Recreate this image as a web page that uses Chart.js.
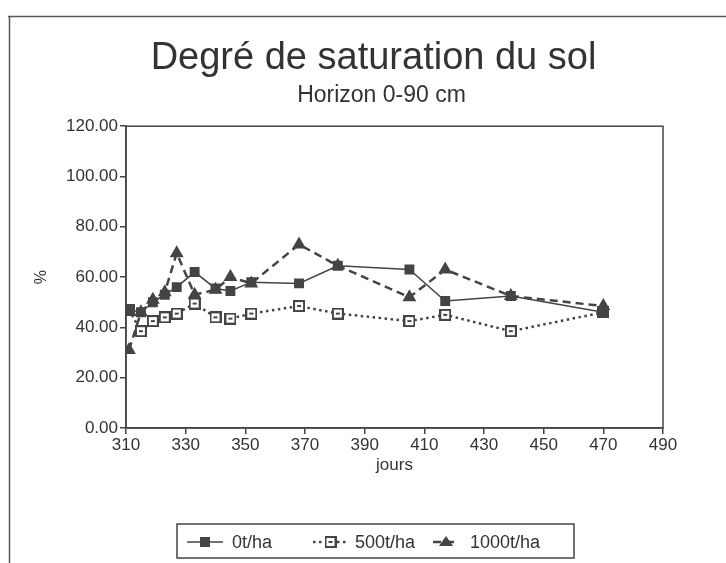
<!DOCTYPE html>
<html>
<head>
<meta charset="utf-8">
<script src="https://cdn.jsdelivr.net/npm/chart.js@4.4.1/dist/chart.umd.min.js"></script>
<style>
  html, body { margin: 0; padding: 0; background: #fff; }
  #wrap { width: 726px; height: 563px; }
</style>
</head>
<body>
<div id="wrap"><canvas id="chart" width="726" height="563"></canvas></div>
<script>
// ── Data ──────────────────────────────────────────
const days = [311, 315, 319, 323, 327, 333, 340, 345, 352, 368, 381, 405, 417, 439, 470];
const sat0 = [47, 46, 50, 53, 56, 62, 55.5, 54.5, 58, 57.5, 64.5, 63, 50.5, 52.5, 46];
const sat500 = [47, 38.5, 42.5, 44, 45.5, 49.5, 44, 43.5, 45.5, 48.5, 45.5, 42.5, 45, 38.5, 46];
const sat1000 = [31, 46, 51, 54, 69.5, 53, 55, 60, 57.5, 73, 64.5, 52, 63, 52.5, 48.5];
const seriesLabels = ['0t/ha', '500t/ha', '1000t/ha'];
const yTicks = [0, 20, 40, 60, 80, 100, 120];
const xTicks = [310, 330, 350, 370, 390, 410, 430, 450, 470, 490];

const TITLE = 'Degré de saturation du sol';
const SUBTITLE = 'Horizon 0-90 cm';
const INK = '#444';
const FONT = "'Liberation Sans', Arial, sans-serif";

// open square marker (500t/ha)
function openSquare() {
  const c = document.createElement('canvas');
  c.width = 12; c.height = 12;
  const g = c.getContext('2d');
  g.fillStyle = '#fff';
  g.fillRect(1, 1, 10, 10);
  g.strokeStyle = INK;
  g.lineWidth = 2;
  g.strokeRect(1, 1, 10, 10);
  g.fillStyle = INK;
  g.fillRect(4, 5, 4, 2);
  return c;
}
const sqImg = openSquare();

const toPts = (vals) => vals.map((v, i) => ({ x: days[i], y: v }));

// ── page frame + plot border, title nudge ─────────
const framePlugin = {
  id: 'frame',
  afterLayout(chart) {
    // title sits a bit right of the canvas centre in the original
    chart.boxes.forEach((b) => {
      if (!b.options) return;
      const dx = b.options.text === TITLE ? 37 : b.options.text === SUBTITLE ? 45 : 0;
      b.left += dx; b.right += dx;
    });
  },
  beforeDraw(chart) {
    const ctx = chart.ctx;
    ctx.save();
    ctx.strokeStyle = '#555';
    ctx.lineWidth = 1.5;
    ctx.beginPath();
    ctx.moveTo(8, 16.5); ctx.lineTo(726, 16.5);
    ctx.moveTo(9.5, 16); ctx.lineTo(9.5, 563);
    ctx.stroke();
    ctx.restore();
  },
  afterDraw(chart) {
    const { ctx, chartArea: a } = chart;
    ctx.save();
    ctx.strokeStyle = INK;
    ctx.lineWidth = 1.5;
    ctx.strokeRect(a.left, a.top, a.right - a.left, a.bottom - a.top);
    ctx.restore();
  },
};

// ── boxed legend with line + marker samples ───────
const sampleX = [187, 313, 433];
const sampleW = [36, 35, 26];
const textX = [232, 355, 470];

const boxLegend = {
  id: 'boxLegend',
  afterDraw(chart) {
    const ctx = chart.ctx;
    const sets = chart.data.datasets;
    ctx.save();
    ctx.font = `18px ${FONT}`;
    ctx.textBaseline = 'middle';
    const cy = 542;
    ctx.strokeStyle = INK;
    ctx.lineWidth = 1.5;
    ctx.strokeRect(177, 524, 397, 34);
    sets.forEach((ds, i) => {
      const x = sampleX[i], sw = sampleW[i];
      ctx.strokeStyle = ds.borderColor;
      ctx.lineWidth = ds.borderWidth;
      ctx.setLineDash(ds.borderDash || []);
      ctx.beginPath();
      ctx.moveTo(x, cy); ctx.lineTo(x + sw, cy);
      ctx.stroke();
      ctx.setLineDash([]);
      const mx = x + sw / 2;
      if (ds.pointStyle === 'rect') {
        ctx.fillStyle = ds.pointBackgroundColor;
        ctx.fillRect(mx - 5, cy - 5, 10, 10);
      } else if (ds.pointStyle === 'triangle') {
        ctx.fillStyle = ds.pointBackgroundColor;
        ctx.beginPath();
        ctx.moveTo(mx, cy - 6); ctx.lineTo(mx + 7, cy + 4); ctx.lineTo(mx - 7, cy + 4);
        ctx.closePath(); ctx.fill();
      } else {
        ctx.drawImage(ds.pointStyle, mx - 6, cy - 6);
      }
      ctx.fillStyle = '#333';
      ctx.fillText(ds.label, textX[i], cy + 1);
    });
    ctx.restore();
  },
};

new Chart(document.getElementById('chart').getContext('2d'), {
  type: 'line',
  data: {
    datasets: [
      {
        label: seriesLabels[0],
        data: toPts(sat0),
        borderColor: INK,
        borderWidth: 1.5,
        pointStyle: 'rect',
        pointRadius: 7,
        pointBackgroundColor: INK,
        pointBorderWidth: 0,
        tension: 0,
      },
      {
        label: seriesLabels[1],
        data: toPts(sat500),
        borderColor: INK,
        borderWidth: 2.5,
        borderDash: [2.5, 3.5],
        pointStyle: sqImg,
        pointRadius: 6,
        tension: 0,
      },
      {
        label: seriesLabels[2],
        data: toPts(sat1000),
        borderColor: INK,
        borderWidth: 2.5,
        borderDash: [8, 5],
        pointStyle: 'triangle',
        pointRadius: 8,
        pointBackgroundColor: INK,
        pointBorderWidth: 0,
        tension: 0,
      },
    ],
  },
  options: {
    responsive: false,
    animation: false,
    layout: { padding: { left: 10, right: 63, top: 0, bottom: 43 } },
    plugins: {
      legend: { display: false },
      tooltip: { enabled: false },
      title: {
        display: true,
        text: TITLE,
        color: '#333',
        font: { family: FONT, size: 38, weight: 'normal' },
        padding: { top: 36, bottom: 0 },
      },
      subtitle: {
        display: true,
        text: SUBTITLE,
        color: '#333',
        font: { family: FONT, size: 23, weight: 'normal' },
        padding: { top: 0, bottom: 17 },
      },
    },
    scales: {
      x: {
        type: 'linear',
        min: xTicks[0],
        max: xTicks[xTicks.length - 1],
        afterBuildTicks: (s) => { s.ticks = xTicks.map((v) => ({ value: v })); },
        afterFit: (s) => { s.height = 92; },
        ticks: { color: '#333', font: { family: FONT, size: 17 }, padding: 1, maxRotation: 0 },
        grid: { drawOnChartArea: false, tickLength: 6, color: INK, lineWidth: 1.5 },
        border: { color: INK, width: 1.5 },
        title: {
          display: true, text: 'jours', color: '#333',
          font: { family: FONT, size: 17 }, padding: { top: 0, bottom: 44 },
        },
      },
      y: {
        min: yTicks[0],
        max: yTicks[yTicks.length - 1],
        afterBuildTicks: (s) => { s.ticks = yTicks.map((v) => ({ value: v })); },
        afterFit: (s) => { s.width = 116; },
        ticks: {
          color: '#333', font: { family: FONT, size: 17 }, padding: 2,
          callback: (v) => v.toFixed(2),
        },
        grid: { drawOnChartArea: false, tickLength: 6, color: INK, lineWidth: 1.5 },
        border: { color: INK, width: 1.5 },
        title: {
          display: true, text: '%', color: '#333',
          font: { family: FONT, size: 16 }, padding: { top: 22, bottom: 0 },
        },
      },
    },
  },
  plugins: [framePlugin, boxLegend],
});
</script>
</body>
</html>
